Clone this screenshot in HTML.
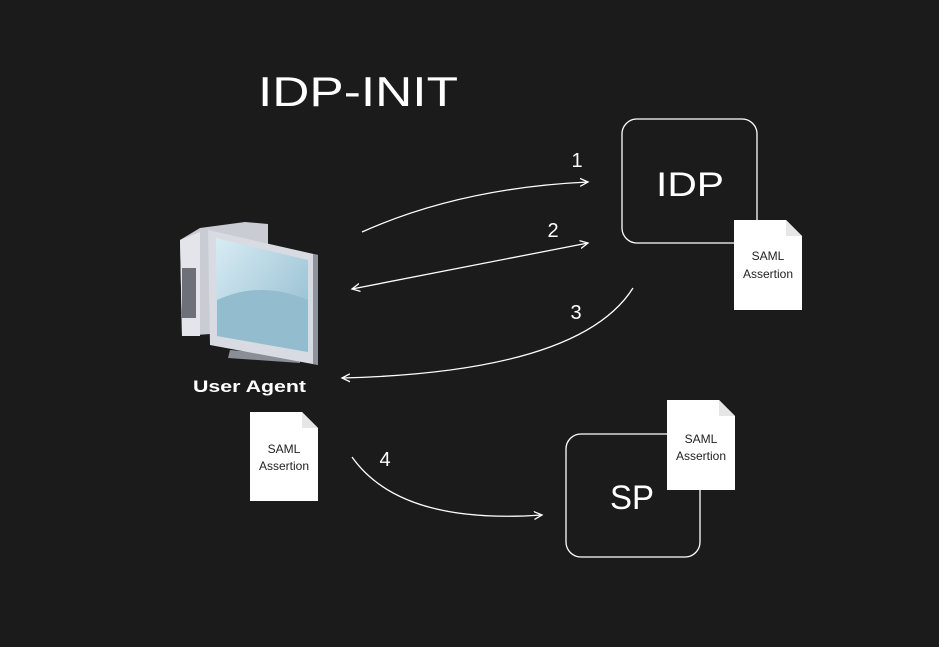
<!DOCTYPE html>
<html><head><style>
html,body{margin:0;padding:0;background:#1b1b1b;}
svg{display:block;}
text{font-family:"Comic Sans MS","Liberation Sans",sans-serif;fill:#fff;}
</style></head><body>
<svg width="939" height="647" viewBox="0 0 939 647" xmlns="http://www.w3.org/2000/svg">
<defs>
<marker id="a" markerWidth="10" markerHeight="10" refX="8" refY="5" orient="auto-start-reverse" markerUnits="userSpaceOnUse">
<path d="M0,1 L8,5 L0,9" fill="none" stroke="#fff" stroke-width="1.3"/>
</marker>
<linearGradient id="scr" x1="0" y1="0" x2="1" y2="1">
<stop offset="0" stop-color="#d8ecf4"/><stop offset="1" stop-color="#8cb8cc"/>
</linearGradient>
</defs>
<rect width="939" height="647" fill="#1b1b1b"/>
<text x="258" y="106" font-size="42" textLength="200" lengthAdjust="spacingAndGlyphs">IDP-INIT</text>

<rect x="622" y="119" width="135" height="124" rx="15" fill="none" stroke="#fff" stroke-width="1.3"/>
<text x="656" y="196" font-size="34" textLength="68" lengthAdjust="spacingAndGlyphs">IDP</text>
<rect x="566" y="434" width="134" height="123" rx="15" fill="none" stroke="#fff" stroke-width="1.3"/>
<text x="610" y="509" font-size="34" textLength="44" lengthAdjust="spacingAndGlyphs">SP</text>

<g>
<path d="M734,220 L786,220 L802,236 L802,310 L734,310 Z" fill="#fff"/>
<path d="M786,220 L786,236 L802,236 Z" fill="#e6e6e6"/>
<text x="768" y="260" font-size="12" text-anchor="middle" style="fill:#222">SAML</text>
<text x="768" y="278" font-size="12" text-anchor="middle" style="fill:#222">Assertion</text>
</g>
<g>
<path d="M667,400 L719,400 L735,416 L735,490 L667,490 Z" fill="#fff"/>
<path d="M719,400 L719,416 L735,416 Z" fill="#e6e6e6"/>
<text x="701" y="443" font-size="12" text-anchor="middle" style="fill:#222">SAML</text>
<text x="701" y="460" font-size="12" text-anchor="middle" style="fill:#222">Assertion</text>
</g>
<g>
<path d="M250,412 L302,412 L318,428 L318,501 L250,501 Z" fill="#fff"/>
<path d="M302,412 L302,428 L318,428 Z" fill="#e6e6e6"/>
<text x="284" y="453" font-size="12" text-anchor="middle" style="fill:#222">SAML</text>
<text x="284" y="470" font-size="12" text-anchor="middle" style="fill:#222">Assertion</text>
</g>

<g>
<path d="M180,240 L200,228 L245,222 L268,224 L268,330 L182,336 Z" fill="#c9ccd3"/>
<path d="M180,240 L200,232 L200,336 L182,336 Z" fill="#e3e5ea"/>
<rect x="182" y="268" width="14" height="50" fill="#6d7079"/>
<path d="M230,350 L300,356 L300,363 L228,358 Z" fill="#8a8e96"/>
<path d="M208,230 L318,255 L318,365 L210,345 Z" fill="#d8dbe1"/>
<path d="M313,254 L318,255 L318,365 L313,364 Z" fill="#8f939b"/>
<path d="M216,238 L308,260 L308,352 L217,336 Z" fill="url(#scr)"/>
<path d="M217,300 Q260,280 308,300 L308,352 L217,336 Z" fill="#93bccf"/>
</g>
<text x="193" y="392" font-size="17" font-weight="bold" textLength="113" lengthAdjust="spacingAndGlyphs">User Agent</text>

<g fill="none" stroke="#fff" stroke-width="1.3">
<path d="M362,232 Q460,188 588,182" marker-end="url(#a)"/>
<path d="M588,243 L352,289" marker-end="url(#a)" marker-start="url(#a)"/>
<path d="M633,288 Q580,372 342,378" marker-end="url(#a)"/>
<path d="M352,457 Q400,525 542,515" marker-end="url(#a)"/>
</g>
<text x="577" y="167" font-size="20" text-anchor="middle">1</text>
<text x="553" y="237" font-size="20" text-anchor="middle">2</text>
<text x="576" y="319" font-size="20" text-anchor="middle">3</text>
<text x="385" y="466" font-size="20" text-anchor="middle">4</text>
</svg>
</body></html>
